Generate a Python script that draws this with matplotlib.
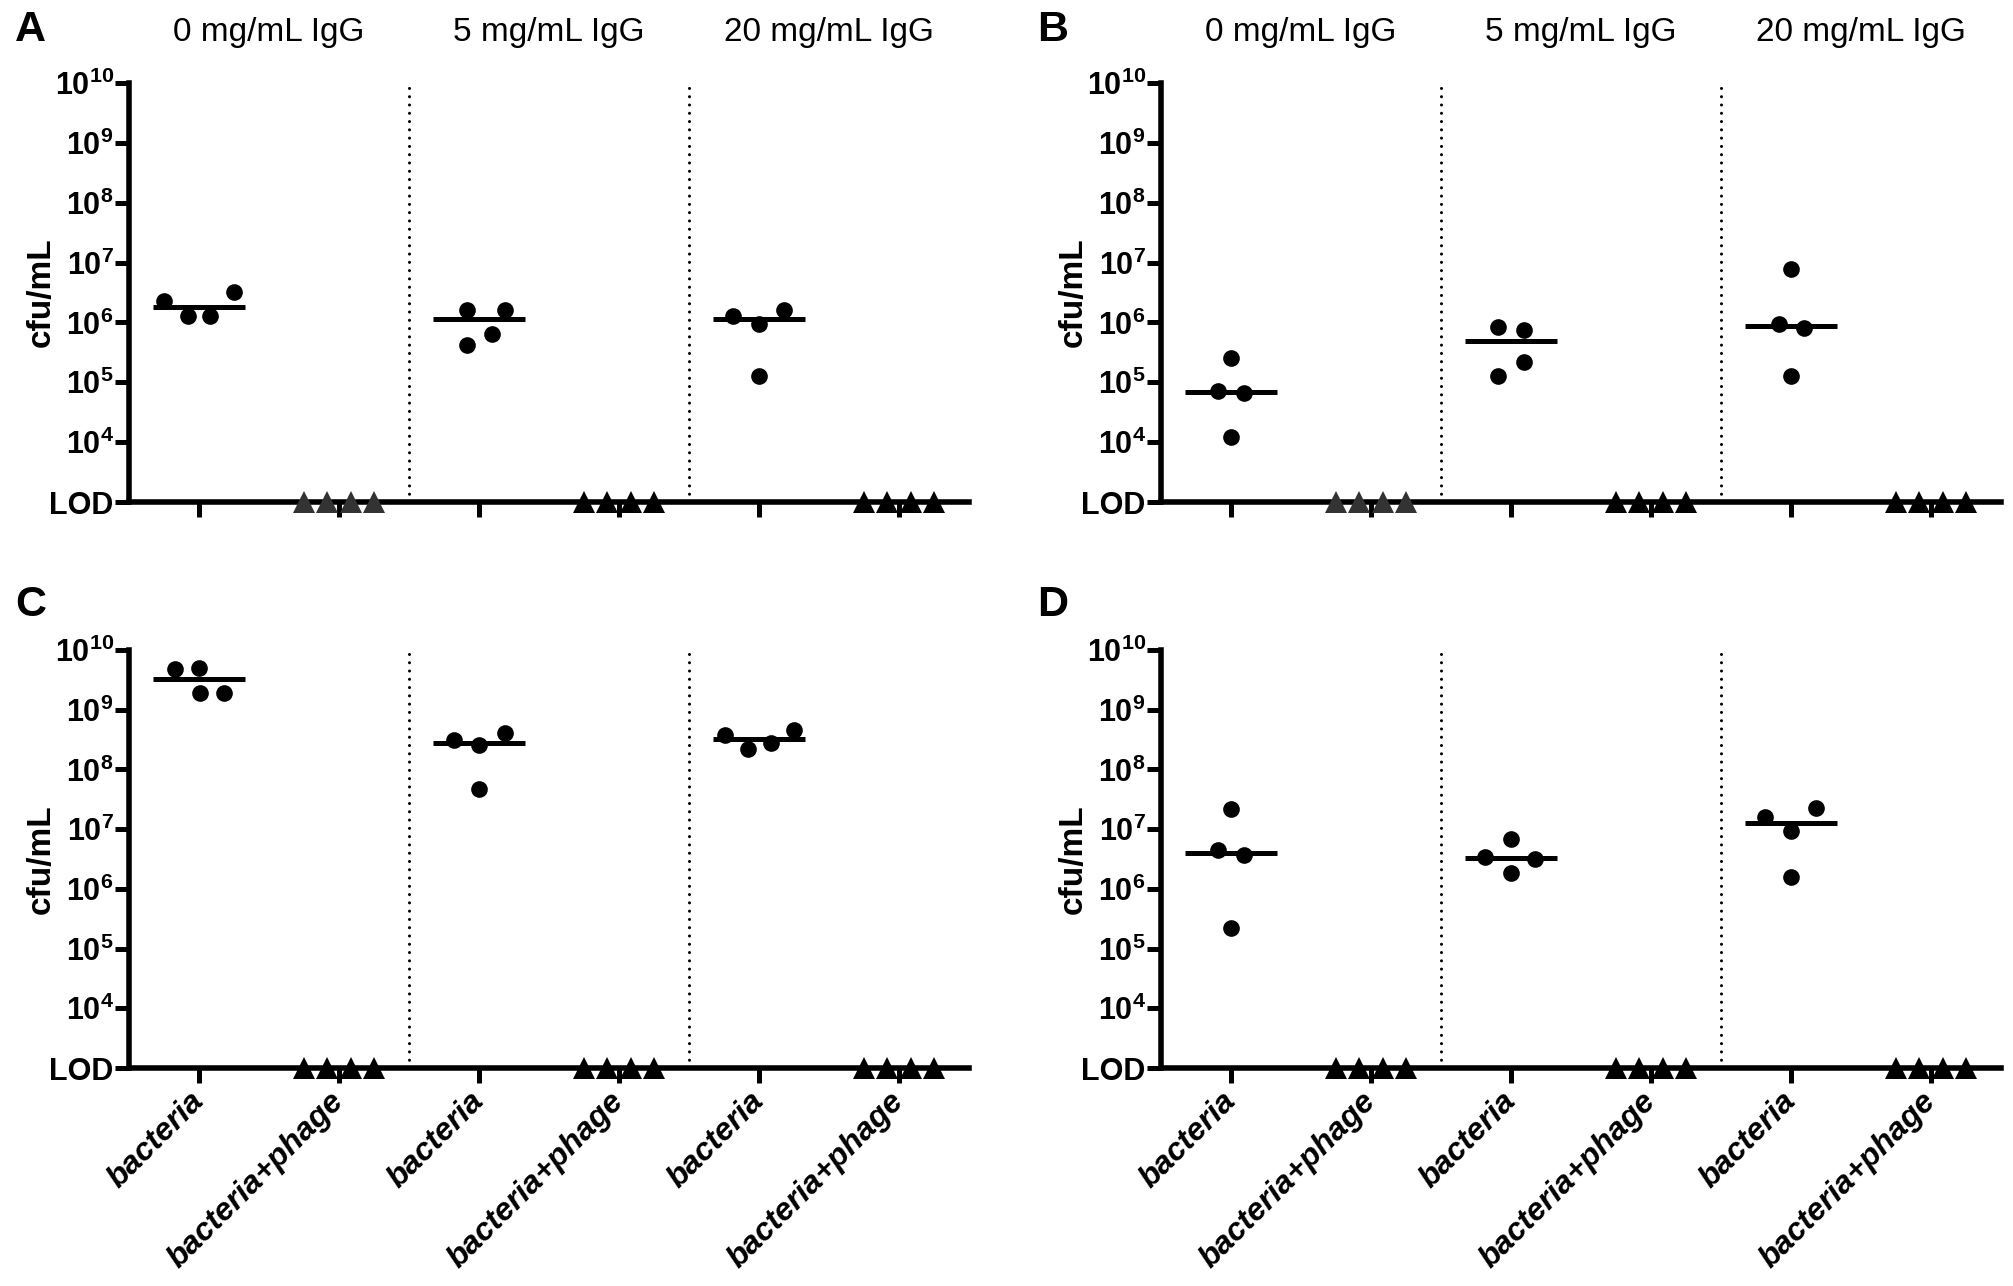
import matplotlib
matplotlib.use('Agg')
import matplotlib.pyplot as plt
from matplotlib.ticker import NullLocator
import numpy as np

plt.rcParams['font.family'] = ['Liberation Sans', 'DejaVu Sans']
plt.rcParams['mathtext.fontset'] = 'custom'
plt.rcParams['mathtext.rm'] = 'Liberation Sans:bold'
plt.rcParams['mathtext.bf'] = 'Liberation Sans:bold'
plt.rcParams['mathtext.it'] = 'Liberation Sans:bold:italic'

# categories
conditions = ['0 mg/mL IgG', '5 mg/mL IgG', '20 mg/mL IgG']
groups = ['bacteria', 'bacteria+phage']
lod = 1e3

# cfu/mL of bacteria alone, one list per IgG condition
bact_A = [[2.31e6, 1.28e6, 1.28e6, 3.18e6],
          [1.60e6, 1.60e6, 6.50e5, 4.15e5],
          [1.30e6, 9.55e5, 1.60e6, 1.29e5]]
bact_B = [[2.51e5, 7.08e4, 6.56e4, 1.24e4],
          [8.26e5, 7.55e5, 2.21e5, 1.29e5],
          [7.94e6, 9.38e5, 8.05e5, 1.26e5]]
bact_C = [[4.73e9, 4.92e9, 1.87e9, 1.87e9],
          [3.08e8, 2.54e8, 4.08e8, 4.74e7],
          [3.73e8, 2.17e8, 2.77e8, 4.65e8]]
bact_D = [[2.19e7, 4.41e6, 3.64e6, 2.17e5],
          [6.90e6, 3.41e6, 3.12e6, 1.87e6],
          [1.61e7, 2.22e7, 9.27e6, 1.58e6]]

# horizontal scatter of the points inside a column (x-axis units)
dx_A = [[-0.25, -0.08, 0.08, 0.25], [-0.085, 0.184, 0.093, -0.085], [-0.184, 0.0, 0.178, 0.0]]
dx_B = [[0.0, -0.09, 0.09, 0.0], [-0.09, 0.09, 0.09, -0.09], [0.0, -0.085, 0.095, 0.0]]
dx_C = [[-0.17, 0.0, 0.01, 0.18], [-0.18, 0.0, 0.185, 0.0], [-0.243, -0.08, 0.086, 0.25]]
dx_D = [[0.0, -0.09, 0.09, 0.0], [0.0, -0.186, 0.172, 0.0], [-0.183, 0.177, 0.0, 0.0]]

# bacteria+phage: every replicate below the limit of detection
phage_A = [[1e3, 1e3, 1e3, 1e3], [1e3, 1e3, 1e3, 1e3], [1e3, 1e3, 1e3, 1e3]]
phage_B = [[1e3, 1e3, 1e3, 1e3], [1e3, 1e3, 1e3, 1e3], [1e3, 1e3, 1e3, 1e3]]
phage_C = [[1e3, 1e3, 1e3, 1e3], [1e3, 1e3, 1e3, 1e3], [1e3, 1e3, 1e3, 1e3]]
phage_D = [[1e3, 1e3, 1e3, 1e3], [1e3, 1e3, 1e3, 1e3], [1e3, 1e3, 1e3, 1e3]]
dx_phage = [-0.25, -0.083, 0.083, 0.25]

ytick_vals = [1e3, 1e4, 1e5, 1e6, 1e7, 1e8, 1e9, 1e10]
ytick_labels = ['LOD'] + [r'$10^{%d}$' % e for e in range(4, 11)]


def draw_panel(ax, bact, dx, phage, top_row):
    for i in range(len(conditions)):
        xb = 2 * i
        xp = 2 * i + 1
        ax.plot(xb + np.array(dx[i]), bact[i], 'o', color='black', ms=12, mew=0,
                clip_on=False, zorder=4)
        med = np.median(bact[i])
        ax.plot([xb - 0.33, xb + 0.33], [med, med], color='black', lw=3.6,
                solid_capstyle='butt', zorder=3)
        tri_col = '#333333' if (top_row and i == 0) else 'black'
        ax.plot(xp + np.array(dx_phage), phage[i], '^', color=tri_col, ms=16, mew=0,
                clip_on=False, zorder=5)
    for xv in (1.5, 3.5):
        ax.axvline(xv, 0, 1, color='black', lw=2.2, linestyle=(0, (0.01, 2.7)),
                   dash_capstyle='round', zorder=1)

    ax.set_yscale('log')
    ax.set_ylim(lod, 1e10)
    ax.set_xlim(-0.5, 5.5)
    ax.set_yticks(ytick_vals)
    ax.set_yticklabels(ytick_labels, fontsize=22, fontweight='bold')
    ax.yaxis.set_minor_locator(NullLocator())
    ax.set_xticks(range(6))
    if top_row:
        ax.set_xticklabels([])
        for i, c in enumerate(conditions):
            ax.text(2 * i + 0.5, 1.1, c, transform=ax.get_xaxis_transform(),
                    ha='center', va='baseline', fontsize=24)
    else:
        ax.set_xticklabels(groups * 3, rotation=45, ha='right', va='center',
                           rotation_mode='anchor', fontsize=23,
                           fontweight='bold', fontstyle='italic')
    ax.tick_params(axis='y', width=3.6, length=10, pad=1, direction='out')
    ax.tick_params(axis='x', width=3.6, length=11, pad=10, direction='out')
    for s in ('top', 'right'):
        ax.spines[s].set_visible(False)
    for s in ('left', 'bottom'):
        ax.spines[s].set_linewidth(4.0)
    ax.set_ylabel('cfu/mL', fontsize=24, fontweight='bold')
    ax.yaxis.set_label_coords(-0.086, 0.5)


fig = plt.figure(figsize=(20.13, 12.86), dpi=100)
W, H = 2013.0, 1286.0
panels = [
    ('A', bact_A, dx_A, phage_A, True, 129, 83, 502),
    ('B', bact_B, dx_B, phage_B, True, 1161, 83, 502),
    ('C', bact_C, dx_C, phage_C, False, 129, 650, 1068),
    ('D', bact_D, dx_D, phage_D, False, 1161, 650, 1068),
]
for letter, bact, dx, phage, top_row, left, top, bottom in panels:
    ax = fig.add_axes([left / W, 1 - bottom / H, 840 / W, (bottom - top) / H])
    draw_panel(ax, bact, dx, phage, top_row)
    lx = 15 if left < 1000 else 1037
    ly = 41 if top_row else 616
    fig.text(lx / W, 1 - ly / H, letter, fontsize=31, fontweight='bold',
             va='baseline', ha='left')

fig.savefig('out.png', dpi=100, facecolor='white')
